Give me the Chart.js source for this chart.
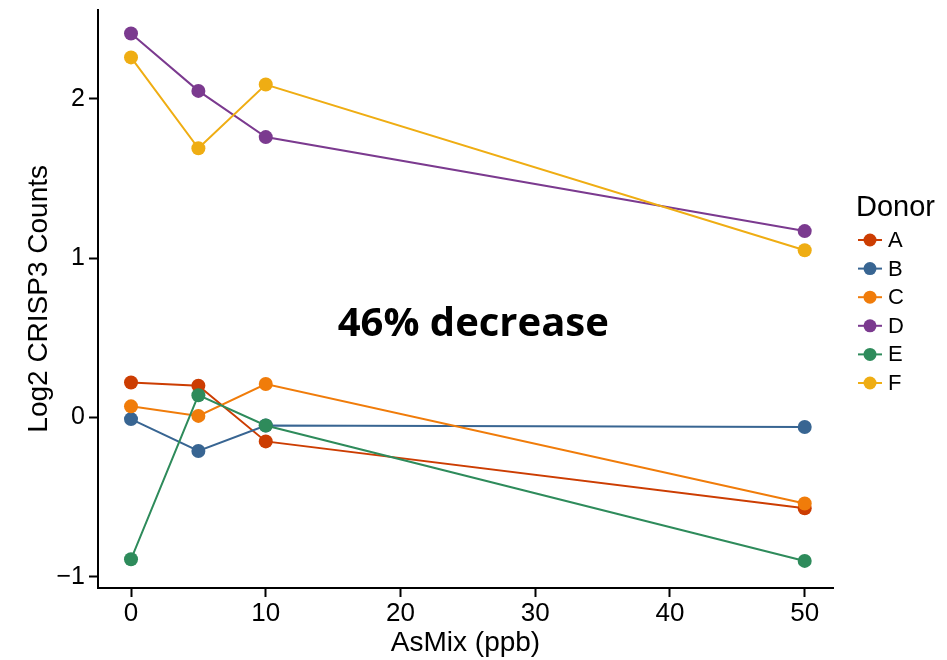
<!DOCTYPE html>
<html>
<head>
<meta charset="utf-8">
<script src="https://cdn.jsdelivr.net/npm/chart.js@4/dist/chart.umd.min.js"></script>
<style>
  html, body { margin: 0; padding: 0; background: #fff; }
  #wrap { width: 947px; height: 660px; }
</style>
</head>
<body>
<div id="wrap"><canvas id="chart" width="947" height="660"></canvas></div>
<script>
// データ
const doses = [0, 5, 10, 50];
const donors = ['A', 'B', 'C', 'D', 'E', 'F'];
const donorA = [0.22, 0.20, -0.15, -0.57];
const donorB = [-0.01, -0.21, -0.05, -0.06];
const donorC = [0.07, 0.01, 0.21, -0.54];
const donorD = [2.41, 2.05, 1.76, 1.17];
const donorE = [-0.89, 0.14, -0.05, -0.90];
const donorF = [2.26, 1.69, 2.09, 1.05];
const colors = ['#CC3D02', '#386592', '#F07C0A', '#7B3A8F', '#2E8B5B', '#EFAD13'];
const xTicks = [0, 10, 20, 30, 40, 50];
const yTicks = [-1, 0, 1, 2];

const seriesList = [donorA, donorB, donorC, donorD, donorE, donorF];
const font = 'Liberation Sans, Arial, Helvetica, sans-serif';

const datasets = donors.map((name, i) => ({
  label: name,
  data: doses.map((d, j) => ({ x: d, y: seriesList[i][j] })),
  borderColor: colors[i],
  backgroundColor: colors[i],
  borderWidth: 2,
  pointRadius: 7,
  pointHoverRadius: 7,
  pointBorderWidth: 0,
  tension: 0,
  order: donors.length - i
}));

// 凡例と注釈
const extras = {
  id: 'extras',
  afterDraw(chart) {
    const ctx = chart.ctx;
    const xs = chart.scales.x, ys = chart.scales.y;
    ctx.save();
    ctx.fillStyle = '#000';
    ctx.font = 'bold 40px "Open Sans", sans-serif';
    ctx.textAlign = 'center';
    ctx.textBaseline = 'middle';
    ctx.fillText('46% decrease', xs.getPixelForValue(25.4), ys.getPixelForValue(0.58));

    ctx.textAlign = 'left';
    ctx.font = '29px ' + font;
    ctx.fillText('Donor', 856, 208);
    ctx.font = '22px ' + font;
    donors.forEach((name, i) => {
      const y = 240 + i * 28.6;
      ctx.strokeStyle = colors[i];
      ctx.lineWidth = 2;
      ctx.beginPath();
      ctx.moveTo(858, y);
      ctx.lineTo(882, y);
      ctx.stroke();
      ctx.fillStyle = colors[i];
      ctx.beginPath();
      ctx.arc(870, y, 6.5, 0, Math.PI * 2);
      ctx.fill();
      ctx.fillStyle = '#000';
      ctx.fillText(name, 888, y + 1);
    });
    ctx.restore();
  }
};

new Chart(document.getElementById('chart'), {
  type: 'line',
  data: { datasets: datasets },
  options: {
    responsive: false,
    animation: false,
    layout: { padding: { left: 22, right: 114, top: 0, bottom: 0 } },
    plugins: { legend: { display: false }, tooltip: { enabled: false } },
    scales: {
      x: {
        type: 'linear',
        min: -2.45,
        max: 52.1,
        afterBuildTicks: s => { s.ticks = xTicks.map(v => ({ value: v })); },
        afterFit: s => { s.height = 72; },
        border: { display: true, color: '#000', width: 2 },
        grid: { drawOnChartArea: false, drawTicks: true, tickLength: 9, color: '#000', tickWidth: 2 },
        ticks: { color: '#000', font: { family: font, size: 26 }, padding: 1 },
        title: { display: true, text: 'AsMix (ppb)', color: '#000', font: { family: font, size: 28 }, padding: { top: 0, bottom: 0 } }
      },
      y: {
        type: 'linear',
        min: -1.07,
        max: 2.56,
        afterBuildTicks: s => { s.ticks = yTicks.map(v => ({ value: v })); },
        afterFit: s => { s.width = 76; },
        border: { display: true, color: '#000', width: 2 },
        grid: { drawOnChartArea: false, drawTicks: true, tickLength: 9, color: '#000', tickWidth: 2 },
        ticks: {
          color: '#000', font: { family: font, size: 25, lineHeight: 0.45 }, padding: 4,
          callback: v => v < 0 ? '\u2212' + Math.abs(v) : String(v)
        },
        title: { display: true, text: 'Log2 CRISP3 Counts', color: '#000', font: { family: font, size: 28 }, padding: { top: 0, bottom: 0 } }
      }
    }
  },
  plugins: [extras]
});
</script>
</body>
</html>
